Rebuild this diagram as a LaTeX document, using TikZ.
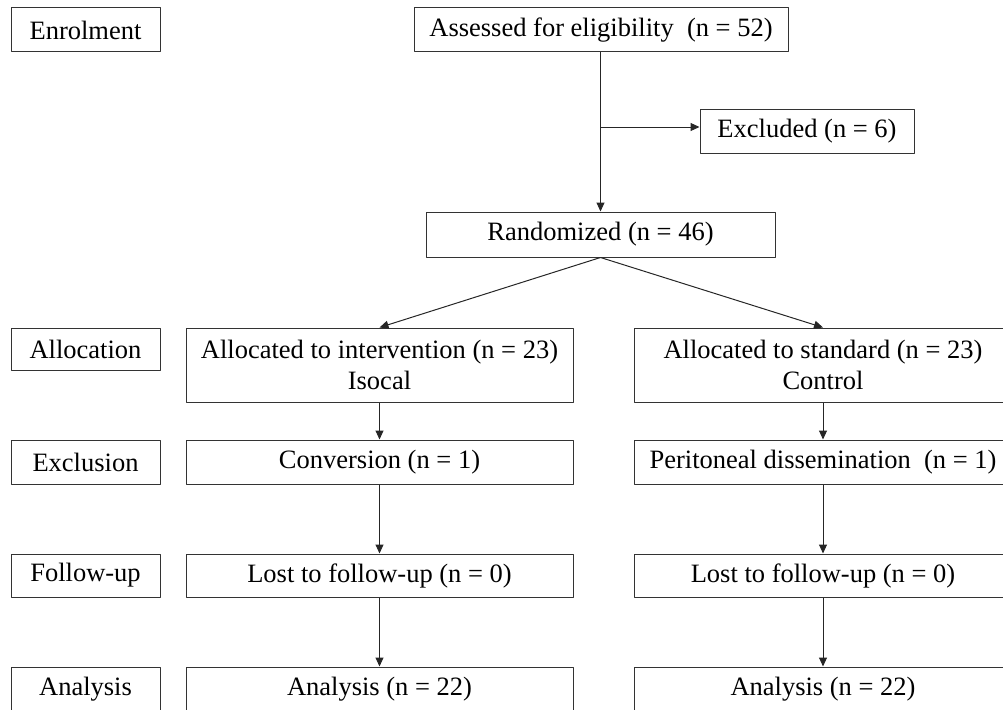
\documentclass[tikz,border=0pt]{standalone}
\usepackage{fontspec}
\setmainfont{Liberation Serif}
\usetikzlibrary{arrows.meta}
\begin{document}
\begin{tikzpicture}[x=1pt,y=-1pt,line join=round,>={Triangle[length=9pt,width=8pt]},
	box/.style={draw=black!80,line width=1pt,rectangle,inner sep=0pt,align=center,
		font=\fontsize{26.5}{31.5}\selectfont},
	stage/.style={box,minimum width=149pt,minimum height=44pt},
	arm/.style={box,minimum width=387pt,minimum height=44pt},
	link/.style={->,draw=black!85,line width=1pt}]
	\useasboundingbox (0,0) rectangle (1003,709);
	
	% stage labels on the left
	\node[stage] (enrol) at (85.5,30) {Enrolment};
	\node[stage,minimum height=42pt] (alloc) at (85.5,349) {Allocation};
	\node[stage] (exclu) at (85.5,462) {Exclusion};
	\node[stage,minimum height=43pt] (follow) at (85.5,575.5) {Follow-up};
	\node[stage] (anal) at (85.5,689) {Analysis};
	
	% top part
	\node[box,minimum width=374pt,minimum height=44pt] (assess) at (601,30) {Assessed for eligibility\ \ (n = 52)};
	\node[box,minimum width=214pt,minimum height=44pt] (excl) at (807,131) {Excluded (n = 6)};
	\node[box,minimum width=349pt,minimum height=45pt] (rand) at (600.5,234.5) {Randomized (n = 46)};
	\coordinate (branch) at (601,127);
	
	% intervention arm
	\node[arm,minimum height=74pt] (allocI) at (379.5,365) {Allocated to intervention (n = 23)\\Isocal};
	\node[arm] (convI) at (379.5,462) {Conversion (n = 1)};
	\node[arm,minimum height=43pt] (lostI) at (379.5,575.5) {Lost to follow-up (n = 0)};
	\node[arm] (analI) at (379.5,689) {Analysis (n = 22)};
	
	% control arm
	\node[arm,minimum width=390pt,minimum height=74pt] (allocS) at (829,365) {};
	\node at (823,365) [align=center,font=\fontsize{26.5}{31.5}\selectfont] {Allocated to standard (n = 23)\\Control};
	\node[arm,minimum width=390pt] (peritS) at (829,462) {};
	\node at (823,462) [font=\fontsize{26.5}{31.5}\selectfont,inner sep=0pt] {Peritoneal dissemination\ \ (n = 1)};
	\node[arm,minimum width=390pt,minimum height=43pt] (lostS) at (829,575.5) {};
	\node at (823,575.5) [font=\fontsize{26.5}{31.5}\selectfont,inner sep=0pt] {Lost to follow-up (n = 0)};
	\node[arm,minimum width=390pt] (analS) at (829,689) {};
	\node at (823,689) [font=\fontsize{26.5}{31.5}\selectfont,inner sep=0pt] {Analysis (n = 22)};
	\coordinate (colS) at (823,0);
	
	\draw[link] (assess.south -| rand.north) -- (rand.north);
	\draw[link] (branch) -- (branch -| excl.west);
	\draw[link] (rand.south) -- (allocI.north);
	\draw[link] (rand.south) -- (allocS.north -| colS);
	
	\draw[link] (allocI) -- (convI);
	\draw[link] (convI) -- (lostI);
	\draw[link] (lostI) -- (analI);
	\draw[link] (allocS.south -| colS) -- (peritS.north -| colS);
	\draw[link] (peritS.south -| colS) -- (lostS.north -| colS);
	\draw[link] (lostS.south -| colS) -- (analS.north -| colS);
\end{tikzpicture}
\end{document}
